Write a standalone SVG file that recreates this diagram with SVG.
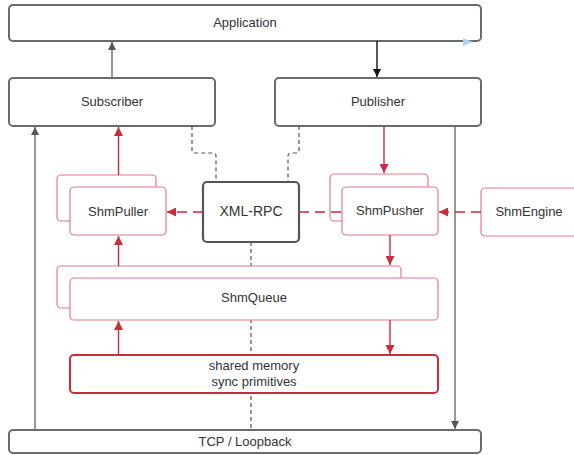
<svg xmlns="http://www.w3.org/2000/svg" width="574" height="455" viewBox="0 0 574 455">
  <defs>
    <style>
      .box { fill: #fff; stroke: #6b6b6b; stroke-width: 2; }
      .rpc { fill: #fff; stroke: #555; stroke-width: 2.2; }
      .shm { fill: #fff; stroke: #e47b83; stroke-width: 1.2; }
      .mem { fill: #fff; stroke: #c92d39; stroke-width: 2; }
      .lbl { font-family: "Liberation Sans", Arial, sans-serif; font-size: 13px; fill: #333; text-anchor: middle; dominant-baseline: central; }
      .ln { fill: none; stroke: #6b6b6b; stroke-width: 1.4; }
      .blk { fill: none; stroke: #111; stroke-width: 1.4; }
      .red { fill: none; stroke: #c92d39; stroke-width: 1.4; }
      .reddash { fill: none; stroke: #c92d39; stroke-width: 1.4; stroke-dasharray: 10 6; }
      .dash { fill: none; stroke: #555; stroke-width: 1.2; stroke-dasharray: 4 3; }
    </style>
    <marker id="ahGray" viewBox="0 0 10 10" refX="10" refY="5" markerWidth="8" markerHeight="8" markerUnits="userSpaceOnUse" orient="auto">
      <path d="M0,0 L10,5 L0,10 z" fill="#555"/>
    </marker>
    <marker id="ahBlack" viewBox="0 0 10 10" refX="10" refY="5" markerWidth="8" markerHeight="8" markerUnits="userSpaceOnUse" orient="auto">
      <path d="M0,0 L10,5 L0,10 z" fill="#111"/>
    </marker>
    <marker id="ahRed" viewBox="0 0 10 10" refX="10" refY="5" markerWidth="9" markerHeight="9" markerUnits="userSpaceOnUse" orient="auto">
      <path d="M0,0 L10,5 L0,10 z" fill="#c92d39"/>
    </marker>
  </defs>

  <!-- vertical dashed link from XML-RPC down to TCP, drawn behind the queue boxes -->
  <g id="connectors-back">
    <path class="dash" d="M251,242 V430"/>
  </g>

  <g id="application">
    <rect class="box" x="9" y="5" width="472" height="36" rx="4"/>
    <text class="lbl" x="245" y="22">Application</text>
    <path d="M463,38 L473,42 L463,46 z" fill="#a8d4f2"/>
  </g>

  <g id="subscriber">
    <rect class="box" x="9" y="78" width="206" height="48" rx="4"/>
    <text class="lbl" x="112" y="101">Subscriber</text>
  </g>

  <g id="publisher">
    <rect class="box" x="275" y="78" width="206" height="48" rx="4"/>
    <text class="lbl" x="378" y="101">Publisher</text>
  </g>

  <g id="shm-puller">
    <rect class="shm" x="57" y="175" width="99" height="46" rx="4"/>
    <rect class="shm" x="70" y="187" width="96" height="48" rx="4"/>
    <text class="lbl" x="118" y="211">ShmPuller</text>
  </g>

  <g id="xml-rpc">
    <rect class="rpc" x="203" y="182" width="96" height="60" rx="4"/>
    <text class="lbl" x="251" y="211" style="font-size:14px">XML-RPC</text>
  </g>

  <g id="shm-pusher">
    <rect class="shm" x="330" y="174" width="98" height="47" rx="4"/>
    <rect class="shm" x="342" y="187" width="96" height="48" rx="4"/>
    <text class="lbl" x="390" y="210">ShmPusher</text>
  </g>

  <g id="shm-engine">
    <rect class="shm" x="481" y="188" width="100" height="48" rx="4"/>
    <text class="lbl" x="529" y="211">ShmEngine</text>
  </g>

  <g id="shm-queue">
    <rect class="shm" x="57" y="266" width="344" height="42" rx="4"/>
    <rect class="shm" x="70" y="278" width="368" height="42" rx="4"/>
    <text class="lbl" x="254" y="297">ShmQueue</text>
  </g>

  <g id="shared-memory">
    <rect class="mem" x="70" y="355" width="368" height="38" rx="4"/>
    <text class="lbl" x="254" y="365">shared memory</text>
    <text class="lbl" x="254" y="381">sync primitives</text>
  </g>

  <g id="tcp-loopback">
    <rect class="box" x="9" y="430" width="472" height="23" rx="4"/>
    <text class="lbl" x="245" y="441">TCP / Loopback</text>
  </g>

  <g id="connectors">
    <!-- application layer -->
    <path class="ln" d="M112,78 V42" marker-end="url(#ahGray)"/>
    <path class="blk" d="M377,41 V77" marker-end="url(#ahBlack)"/>
    <!-- network path -->
    <path class="ln" d="M35,430 V127" marker-end="url(#ahGray)"/>
    <path class="ln" d="M455,126 V429" marker-end="url(#ahGray)"/>
    <!-- control links to XML-RPC -->
    <path class="dash" d="M192,126 V150 Q192,153 195,153 H213 Q216,153 216,156 V182"/>
    <path class="dash" d="M299,126 V150 Q299,153 296,153 H291 Q288,153 288,156 V182"/>
    <!-- shared-memory data path -->
    <path class="red" d="M118.5,175 V127" marker-end="url(#ahRed)"/>
    <path class="red" d="M384,126 V173" marker-end="url(#ahRed)"/>
    <path class="red" d="M118.5,266 V236" marker-end="url(#ahRed)"/>
    <path class="red" d="M390,235 V265" marker-end="url(#ahRed)"/>
    <path class="red" d="M118.5,355 V321" marker-end="url(#ahRed)"/>
    <path class="red" d="M390,320 V354" marker-end="url(#ahRed)"/>
    <!-- control links -->
    <path class="reddash" d="M203,212 H167" marker-end="url(#ahRed)"/>
    <path class="reddash" d="M299,212 H342"/>
    <path class="reddash" d="M481,212 H439" marker-end="url(#ahRed)"/>
  </g>
</svg>
